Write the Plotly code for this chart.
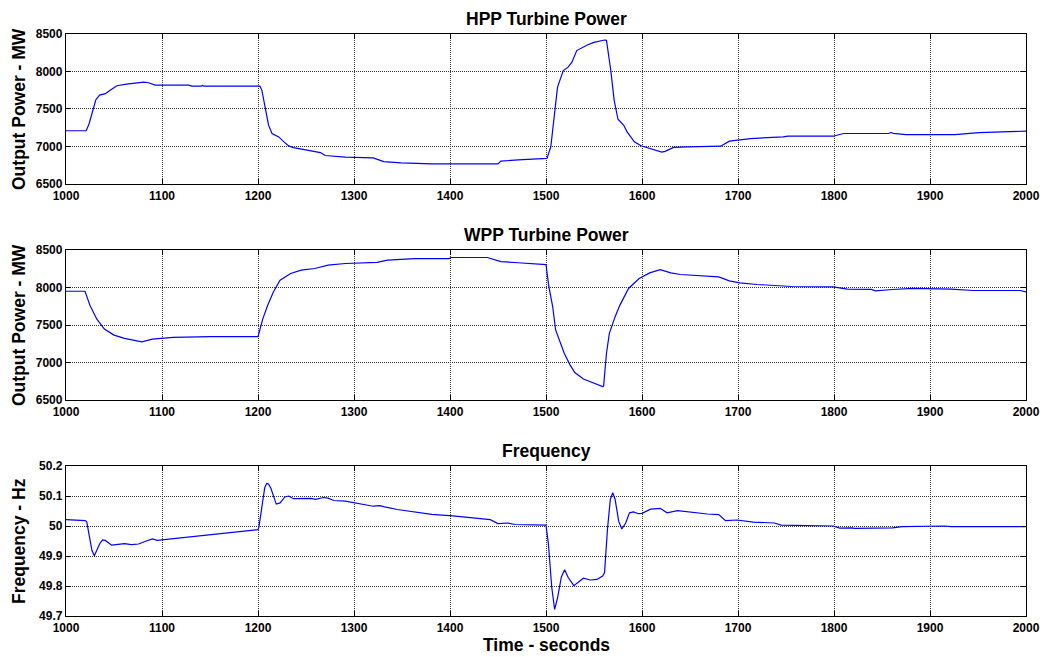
import plotly.graph_objects as go

# ---------------- data ----------------
hpp_t = [1000, 1021, 1024, 1028, 1031, 1035, 1038, 1041, 1046, 1053, 1063, 1074, 1081, 1086, 1093,
         1128, 1131, 1141, 1142, 1144, 1202, 1204, 1207.6, 1211, 1214.6, 1221.6, 1227, 1232, 1237,
         1248, 1265, 1270, 1291, 1320, 1331, 1349, 1381, 1450, 1453, 1471, 1489, 1501, 1505, 1509,
         1512, 1518, 1523, 1527, 1532, 1543, 1550, 1561, 1563, 1567.5, 1571, 1575, 1581, 1584.5,
         1592, 1599, 1608, 1620.6, 1624, 1633, 1648, 1682, 1691, 1713, 1747, 1752, 1799, 1810,
         1857, 1859, 1862, 1875, 1926, 1951, 2000]
hpp_mw = [7210, 7210, 7300, 7480, 7620, 7685, 7690, 7705, 7750, 7810, 7832, 7850, 7858, 7850, 7818,
          7818, 7805, 7805, 7815, 7805, 7805, 7752, 7529, 7284, 7173, 7128, 7061, 7008, 6985,
          6959, 6919, 6880, 6857, 6848, 6799, 6781, 6768, 6768, 6804, 6821, 6832, 6841, 6996, 7438,
          7792, 8013, 8058, 8124, 8279, 8354, 8389, 8420, 8415, 8013, 7615, 7363, 7283, 7195,
          7062, 7009, 6973, 6925, 6935, 6987, 6996, 7004, 7071, 7106, 7128, 7137, 7137, 7173,
          7173, 7186, 7175, 7159, 7159, 7186, 7204]

wpp_t = [1000, 1019.8, 1025, 1032, 1040, 1050, 1061, 1075.5, 1079, 1090, 1101, 1111.5, 1151, 1200,
         1205, 1210, 1216, 1223, 1234, 1245, 1259, 1273, 1291, 1324, 1335, 1363, 1399, 1401, 1439,
         1453, 1471, 1500, 1503, 1507, 1510, 1519, 1525, 1530, 1539, 1550, 1559, 1560, 1563, 1566,
         1572, 1577, 1586, 1597, 1608, 1619, 1630, 1640, 1655, 1680, 1691, 1702, 1720, 1756, 1799,
         1814, 1839, 1843, 1861, 1882, 1922, 1945, 1994, 2000]
wpp_mw = [7950, 7950, 7760, 7581, 7446, 7365, 7321, 7280, 7276, 7312, 7320, 7335, 7345, 7345,
          7581, 7760, 7939, 8096, 8186, 8231, 8253, 8298, 8320, 8335, 8365, 8385, 8385, 8400, 8400,
          8345, 8330, 8305, 8009, 7743, 7434, 7124, 6969, 6867, 6779, 6726, 6678, 6685, 7124, 7389,
          7611, 7765, 7987, 8119, 8195, 8239, 8195, 8173, 8164, 8142, 8088, 8062, 8040, 8013, 8009,
          7978, 7975, 7956, 7973, 7987, 7978, 7960, 7960, 7942]

freq_t = [1000, 1020, 1021.6, 1024.5, 1027, 1029.5, 1032, 1035, 1038, 1041, 1047.5, 1054, 1061,
          1068, 1075.5, 1083, 1090, 1095, 1101, 1147.5, 1183, 1200, 1201, 1205, 1207, 1209, 1211,
          1213.5, 1216, 1219, 1223, 1228, 1232, 1237, 1255, 1260, 1268, 1273, 1279, 1291, 1320,
          1327, 1332, 1345, 1381, 1403, 1442, 1450, 1460, 1468, 1500, 1502.5, 1506, 1509, 1512,
          1516, 1519.4, 1523, 1529, 1534, 1539, 1546, 1553, 1559, 1561, 1564, 1567, 1569.5, 1572,
          1575.7, 1579, 1583, 1587, 1591, 1596.5, 1600, 1609, 1619, 1626, 1637, 1647, 1668, 1680,
          1687, 1699, 1716, 1738, 1745, 1799, 1806, 1819, 1821, 1861, 1871, 1915, 1922, 2000]
freq_hz = [50.021, 50.018, 50.014, 49.963, 49.919, 49.901, 49.919, 49.940, 49.954, 49.952, 49.936,
           49.938, 49.941, 49.938, 49.940, 49.949, 49.957, 49.952, 49.954, 49.969, 49.982, 49.988,
           49.997, 50.097, 50.128, 50.142, 50.140, 50.125, 50.103, 50.073, 50.077, 50.097, 50.100,
           50.091, 50.092, 50.089, 50.095, 50.093, 50.085, 50.083, 50.066, 50.068, 50.064, 50.055,
           50.039, 50.034, 50.021, 50.008, 50.010, 50.005, 50.003, 49.940, 49.795, 49.722, 49.760,
           49.830, 49.854, 49.829, 49.801, 49.815, 49.826, 49.820, 49.822, 49.833, 49.845, 49.988,
           50.089, 50.111, 50.089, 50.016, 49.990, 50.010, 50.044, 50.047, 50.041, 50.042, 50.056,
           50.059, 50.044, 50.051, 50.047, 50.040, 50.038, 50.018, 50.020, 50.013, 50.010, 50.003,
           50.000, 49.993, 49.994, 49.992, 49.994, 49.998, 50.000, 49.998, 49.998]

x_ticks = [1000, 1100, 1200, 1300, 1400, 1500, 1600, 1700, 1800, 1900, 2000]
mw_ticks = [6500, 7000, 7500, 8000, 8500]
hz_ticks = [49.7, 49.8, 49.9, 50.0, 50.1, 50.2]
hz_labels = ["49.7", "49.8", "49.9", "50", "50.1", "50.2"]

titles = ["HPP Turbine Power", "WPP Turbine Power", "Frequency"]
y_titles = ["Output Power - MW", "Output Power - MW", "Frequency - Hz"]
x_title = "Time - seconds"

# ---------------- figure ----------------
FONT = "Liberation Sans"
W, H = 1044, 657
ml, mr, mt, mb = 66, 18, 34, 41
plot_w = W - ml - mr
plot_h = H - mt - mb
domains = [[0.7423, 1.0], [0.3711, 0.6289], [0.0, 0.2577]]

fig = go.Figure()
series = [(hpp_t, hpp_mw), (wpp_t, wpp_mw), (freq_t, freq_hz)]
for i, (tx, vy) in enumerate(series):
    sfx = "" if i == 0 else str(i + 1)
    fig.add_trace(go.Scatter(x=tx, y=vy, mode="lines",
                             line=dict(color="#0000FF", width=1.2),
                             xaxis="x" + sfx, yaxis="y" + sfx, showlegend=False))

tickfont = dict(family=FONT, size=12, color="black", weight="bold")
common = dict(showline=True, linecolor="black", linewidth=1.3, mirror="ticks",
              ticks="inside", ticklen=5, tickwidth=1, tickcolor="black",
              showgrid=True, gridcolor="#333333", gridwidth=1, griddash="1px,1px",
              zeroline=False, tickfont=tickfont, automargin=False)

layout = dict(width=W, height=H, margin=dict(l=ml, r=mr, t=mt, b=mb, autoexpand=False),
              paper_bgcolor="white", plot_bgcolor="white", showlegend=False)

yranges = [[6500, 8500], [6500, 8500], [49.7, 50.2]]
ytickv = [mw_ticks, mw_ticks, hz_ticks]
ytickt = [[str(v) for v in mw_ticks], [str(v) for v in mw_ticks], hz_labels]

titlefont = dict(family=FONT, size=17.5, color="black", weight="bold")
annotations = []
for i in range(3):
    sfx = "" if i == 0 else str(i + 1)
    layout["xaxis" + sfx] = dict(common, range=[1000, 2000], tickvals=x_ticks,
                                 ticktext=[str(v) for v in x_ticks],
                                 anchor="y" + sfx, domain=[0, 1])
    layout["yaxis" + sfx] = dict(common, range=yranges[i], tickvals=ytickv[i],
                                 ticktext=ytickt[i], anchor="x" + sfx, domain=domains[i])
    d0, d1 = domains[i]
    annotations.append(dict(text=titles[i], xref="paper", yref="paper", x=0.5, y=d1,
                            xanchor="center", yanchor="middle", yshift=15, showarrow=False,
                            font=titlefont))
    annotations.append(dict(text=y_titles[i], xref="paper", yref="paper",
                            x=(19 - ml) / plot_w, y=(d0 + d1) / 2,
                            xanchor="center", yanchor="middle", textangle=-90, showarrow=False,
                            font=titlefont))
annotations.append(dict(text=x_title, xref="paper", yref="paper", x=0.5,
                        y=-(645 - (H - mb)) / plot_h, xanchor="center", yanchor="middle",
                        showarrow=False, font=titlefont))
layout["annotations"] = annotations
fig.update_layout(**layout)

# remove the browser's default 8px page margin so the figure sits at the window origin
fig.write_html("out.html",
               config={"displayModeBar": False},
               post_script="document.body.style.margin='0';document.body.style.overflow='hidden';")
